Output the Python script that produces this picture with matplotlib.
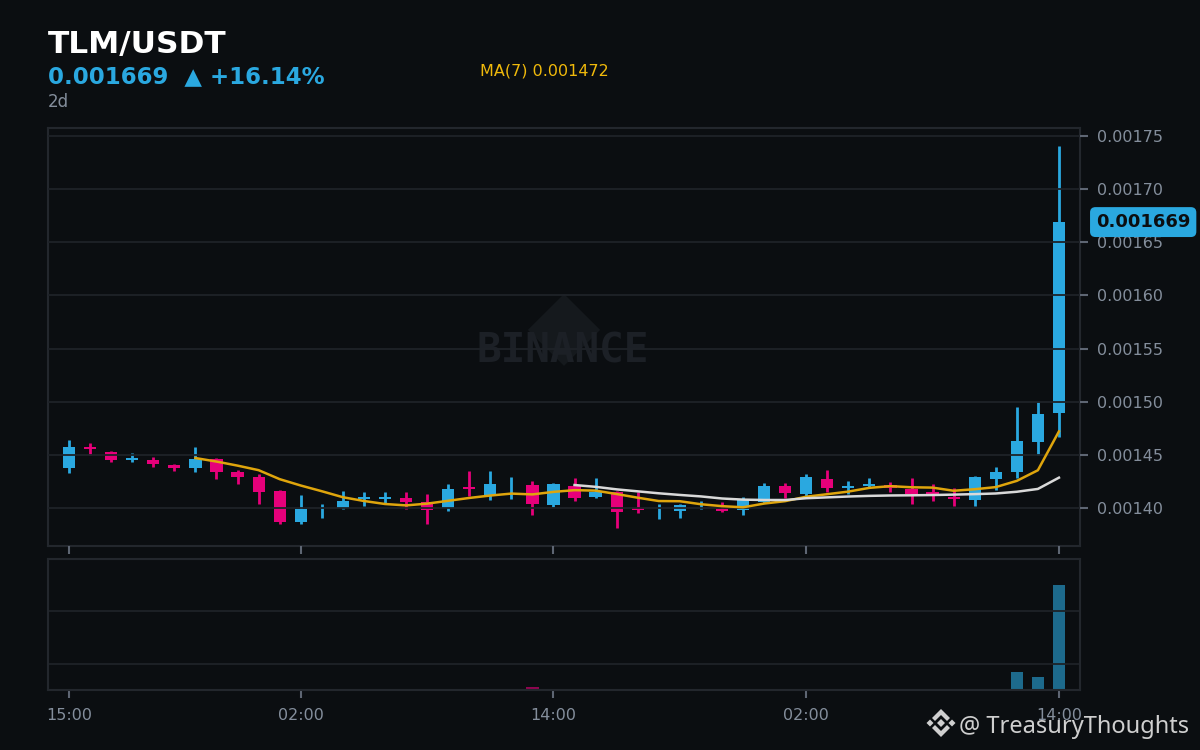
import numpy as np
import pandas as pd
import matplotlib
matplotlib.use("Agg")
import matplotlib.pyplot as plt
from matplotlib.patches import Polygon
from matplotlib.transforms import blended_transform_factory

# hourly candles, 15:00 day 1 -> 14:00 day 3
opens = [0.001438, 0.001457, 0.001453, 0.0014455, 0.001445, 0.0014405, 0.0014376, 0.0014461,
         0.0014339, 0.0014292, 0.001416, 0.0013868, 0.0014, 0.0014, 0.001409, 0.001409,
         0.0014094, 0.0014056, 0.0014003, 0.001419, 0.0014122, 0.001422, 0.0014216, 0.0014028,
         0.0014207, 0.0014103, 0.0014151, 0.001399, 0.0014, 0.0013972, 0.0014028, 0.0013991,
         0.0013981, 0.0014059, 0.0014207, 0.0014132, 0.0014273, 0.0014195, 0.0014214, 0.0014216,
         0.0014179, 0.0014151, 0.0014103, 0.0014075, 0.0014273, 0.0014342, 0.0014621, 0.0014897]
highs = [0.001464, 0.001461, 0.001454, 0.001452, 0.001448, 0.001441, 0.0014574, 0.0014468,
         0.0014358, 0.001432, 0.0014169, 0.0014122, 0.0014038, 0.001416, 0.0014151, 0.0014151,
         0.0014151, 0.0014132, 0.0014226, 0.0014348, 0.0014348, 0.0014292, 0.0014254, 0.0014235,
         0.0014282, 0.0014282, 0.001416, 0.0014151, 0.0014038, 0.0014038, 0.0014066, 0.0014056,
         0.0014103, 0.0014235, 0.0014235, 0.001432, 0.0014358, 0.0014254, 0.0014282, 0.0014245,
         0.0014282, 0.0014226, 0.0014188, 0.0014301, 0.0014386, 0.001495, 0.0014997, 0.0017406]
lows = [0.001433, 0.00145, 0.001443, 0.001443, 0.001439, 0.001435, 0.0014342, 0.0014276,
        0.0014226, 0.0014038, 0.0013849, 0.0013849, 0.0013909, 0.0013991, 0.0014022, 0.0014038,
        0.0013993, 0.0013852, 0.0013975, 0.0014113, 0.0014078, 0.0014088, 0.0013934, 0.0014012,
        0.0014069, 0.0014094, 0.0013812, 0.0013956, 0.0013899, 0.0013909, 0.0013993, 0.0013962,
        0.0013934, 0.0014044, 0.0014097, 0.0014101, 0.0014153, 0.0014132, 0.0014195, 0.0014153,
        0.001404, 0.0014069, 0.0014022, 0.0014022, 0.0014172, 0.0014285, 0.0014502, 0.0014671]
closes = [0.001457, 0.001456, 0.001445, 0.001446, 0.001441, 0.0014376, 0.0014461, 0.0014339,
          0.0014292, 0.0014151, 0.0013868, 0.0013991, 0.0014, 0.0014066, 0.0014092, 0.0014092,
          0.0014059, 0.0013984, 0.0014179, 0.0014186, 0.0014226, 0.001422, 0.0014038, 0.0014226,
          0.0014097, 0.0014148, 0.0013962, 0.0013985, 0.0014, 0.0014025, 0.0014028, 0.0013972,
          0.0014072, 0.0014207, 0.0014144, 0.0014292, 0.0014191, 0.00142, 0.0014218, 0.0014185,
          0.0014132, 0.0014122, 0.0014085, 0.0014292, 0.0014339, 0.001463, 0.0014884, 0.001669]
volumes = [1.0, 0.3, 0.2, 0.2, 0.2, 0.2, 0.2, 0.3, 0.3, 0.4, 0.5, 1.0,
           1.0, 0.3, 0.2, 0.2, 0.3, 1.0, 1.0, 1.0, 1.0, 0.4, 2.5, 0.4,
           0.3, 0.3, 1.0, 0.4, 0.2, 0.2, 0.2, 0.2, 0.2, 0.2, 0.2, 0.3,
           0.3, 0.2, 0.2, 0.3, 0.3, 0.2, 0.3, 0.4, 1.0, 17.3, 12.5, 100.0]

tick_pos = [0, 11, 23, 35, 47]
tick_labels = ["15:00", "02:00", "14:00", "02:00", "14:00"]
price_ticks = [0.00140, 0.00145, 0.00150, 0.00155, 0.00160, 0.00165, 0.00170, 0.00175]

pair = "TLM/USDT"
last_price = 0.001669
change = "+16.14%"
period = "2d"

BG = "#0b0e11"
UP = "#2aa8e0"
DOWN = "#e6007a"
GRID = "#1e2228"
SPINE = "#23272d"
TXT = "#848e9c"
YEL = "#f0b90b"

o = np.array(opens)
h = np.array(highs)
l = np.array(lows)
c = np.array(closes)
x = np.arange(len(c))
up = c >= o
cols = np.where(up, UP, DOWN)

ma7 = pd.Series(c).rolling(7).mean()
ma25 = pd.Series(c).rolling(25).mean()

fig = plt.figure(figsize=(12, 7.5), dpi=100, facecolor=BG)
ax = fig.add_axes([0.04, 0.272, 0.86, 0.5573], facecolor=BG)
axv = fig.add_axes([0.04, 0.08, 0.86, 0.1747], facecolor=BG)

# watermark
ax.add_patch(Polygon([(0.5, 0.517 + 0.086), (0.535, 0.517), (0.5, 0.517 - 0.086), (0.465, 0.517)],
                     closed=True, transform=ax.transAxes, color="#15191d", zorder=0.5, lw=0))
ax.text(0.499, 0.438, "BINANCE", transform=ax.transAxes, ha="center", va="baseline",
        fontsize=29.5, family="DejaVu Sans Mono", weight="bold", color="#1c2026", zorder=0.6)

# candles
diff = c - o
mn = 1.6e-6
small = (np.abs(diff) > 0) & (np.abs(diff) < mn)
bottom = np.minimum(o, c)
height = np.abs(diff)
mid = (o + c) / 2
bottom = np.where(small, mid - mn / 2, bottom)
height = np.where(small, mn, height)
ax.vlines(x, l, h, colors=cols, lw=2, zorder=1)
ax.bar(x, height, bottom=bottom, width=0.58, color=cols, linewidth=0, zorder=1.5)

ax.plot(x, ma7, color="#dfa50c", lw=1.8, zorder=3)
ax.plot(x, ma25, color="#d9d9d9", lw=1.8, zorder=3)

ax.set_xlim(-1, 48.0)
ax.set_ylim(0.0013642, 0.0017575)
ax.set_yticks(price_ticks)
ax.set_yticklabels([f"{p:.5f}" for p in price_ticks])
ax.yaxis.tick_right()
ax.set_xticks(tick_pos)
ax.tick_params(axis="x", length=6, width=1.5, color="#5e6673", labelbottom=False)
ax.tick_params(axis="y", length=6, width=1.5, color="#5e6673", labelcolor=TXT, labelsize=11.5, pad=6)
ax.yaxis.grid(True, color=GRID, lw=1.3)
ax.set_axisbelow(False)
for s in ax.spines.values():
    s.set_color(SPINE)
    s.set_linewidth(1.5)

tr = blended_transform_factory(ax.transAxes, ax.transData)
ax.text(1.0155, last_price, f"{last_price:.6f}", transform=tr, ha="left", va="center",
        fontsize=13, fontweight="bold", color=BG, clip_on=False,
        bbox=dict(boxstyle="round,pad=0.33,rounding_size=0.3", fc=UP, ec="none"))

# volume
axv.bar(x, volumes, width=0.58, color=cols, alpha=0.6, linewidth=0)
axv.set_xlim(-1, 48.0)
axv.set_ylim(0, 125)
axv.set_yticks([25, 75])
axv.yaxis.grid(True, color=GRID, lw=1.3)
axv.tick_params(axis="y", length=0, labelleft=False)
axv.set_xticks(tick_pos)
axv.set_xticklabels(tick_labels)
axv.tick_params(axis="x", length=6, width=1.5, color="#5e6673", labelcolor=TXT, labelsize=11.5, pad=7)
for s in axv.spines.values():
    s.set_color(SPINE)
    s.set_linewidth(1.5)

# header
fig.text(0.04, 1 - 53 / 750, pair, fontsize=22.5, fontweight="bold", color="white", va="baseline")
fig.text(0.04, 1 - 83 / 750, f"{last_price:.6f}  \u25b2 {change}", fontsize=16.5, fontweight="bold",
         color=UP, va="baseline")
fig.text(0.04, 1 - 107 / 750, period, fontsize=12, color=TXT, va="baseline")
fig.text(0.4, 1 - 75.5 / 750, f"MA(7) {ma7.iloc[-1]:.6f}", fontsize=11.5, color=YEL, va="baseline")


# bottom right watermark
def px(pts, cx, cy):
    return [((cx + dx) / 1200, 1 - (cy + dy) / 750) for dx, dy in pts]


logo = [
    [(0, -4), (4, 0), (0, 4), (-4, 0)],
    [(-11, -3.5), (-7.5, 0), (-11, 3.5), (-14.5, 0)],
    [(11, -3.5), (14.5, 0), (11, 3.5), (7.5, 0)],
    [(0, -14), (9, -5), (6, -2), (0, -8), (-6, -2), (-9, -5)],
    [(0, 14), (9, 5), (6, 2), (0, 8), (-6, 2), (-9, 5)],
]
for shape in logo:
    fig.add_artist(Polygon(px(shape, 941, 723), closed=True, transform=fig.transFigure,
                           color="#cfcfcf", lw=0))
fig.text(959 / 1200, 1 - 733 / 750, "@ TreasuryThoughts", fontsize=17, color="#cfcfcf",
         family="Noto Sans", va="baseline")

fig.savefig("out.png", dpi=100, facecolor=BG)
